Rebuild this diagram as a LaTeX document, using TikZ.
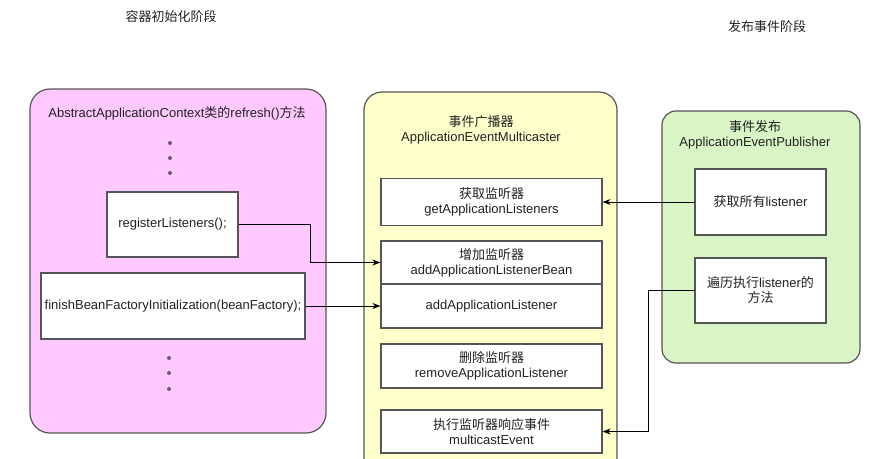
\documentclass[tikz,border=0pt]{standalone}
\usepackage{fontspec}
\setmainfont{Liberation Sans}
\newfontfamily\cjk{Noto Sans CJK SC}
\newcommand{\zh}[1]{{\cjk #1}}
\usetikzlibrary{arrows.meta}
\definecolor{flowInk}{HTML}{222222}
\definecolor{flowEdge}{HTML}{555555}
\definecolor{flowPink}{HTML}{FFC9FF}
\definecolor{flowYellow}{HTML}{FFFFCC}
\definecolor{flowGreen}{HTML}{D9F5C6}
\definecolor{flowDot}{HTML}{6A5A6A}
\tikzset{
  every picture/.style={font=\fontsize{13}{15}\selectfont, text=flowInk},
  flow group/.style={draw=flowEdge, line width=1.2pt, rounded corners=20pt, inner sep=0pt},
  flow box/.style={draw=flowEdge, line width=1.2pt, fill=white, align=center, inner sep=0pt},
  flow label/.style={align=center, inner sep=1pt},
  flow arrow/.style={-{Stealth[length=8pt,width=6pt]}, draw=black, line width=0.8pt},
  flow dot/.style={circle, fill=flowDot, inner sep=0pt, minimum size=4pt}
}

\begin{document}
\begin{tikzpicture}[x=1pt,y=-1pt]
  \useasboundingbox (0,0) rectangle (869,458);
  \clip (0,0) rectangle (869,458);
  % stage titles
  \node (stageinit) at (171,17) {\zh{容器初始化阶段}};
  \node (stagepub) at (767,27) {\zh{发布事件阶段}};
  % refresh() container
  \node[flow group, fill=flowPink, minimum width=296pt, minimum height=344pt] (ctx) at (178,261) {};
  \node[flow label] (ctxtitle) at (177,113) {AbstractApplicationContext\zh{类的}refresh()\zh{方法}};
  \foreach \y [count=\i] in {143,158,173} \node[flow dot] (dotup\i) at (170,\y) {};
  \foreach \y [count=\i] in {358,373,389} \node[flow dot] (dotlow\i) at (169,\y) {};
  \node[flow box, minimum width=131pt, minimum height=65pt] (reg) at (172.5,224.5) {registerListeners();};
  \node[flow box, minimum width=264pt, minimum height=66pt] (fin) at (173,306) {finishBeanFactoryInitialization(beanFactory);};
  % multicaster container
  \node[flow group, fill=flowYellow, rounded corners=18pt, minimum width=253pt, minimum height=390pt] (mcast) at (490.5,287) {};
  \node[flow label] (mcasttitle) at (481,130) {\zh{事件广播器}\\ApplicationEventMulticaster};
  \node[flow box, minimum width=221pt, minimum height=47pt] (get) at (491.5,202) {\zh{获取监听器}\\getApplicationListeners};
  \node[flow box, minimum width=221pt, minimum height=43pt] (add) at (491.5,262.5) {\zh{增加监听器}\\addApplicationListenerBean};
  \node[flow box, minimum width=221pt, minimum height=44pt] (addlst) at (491.5,306) {addApplicationListener};
  \node[flow box, minimum width=221pt, minimum height=44pt] (rem) at (491.5,366) {\zh{删除监听器}\\removeApplicationListener};
  \node[flow box, minimum width=221pt, minimum height=43pt] (mc) at (491.5,431.5) {\zh{执行监听器响应事件}\\multicastEvent};
  % publisher container
  \node[flow group, fill=flowGreen, rounded corners=14pt, minimum width=198pt, minimum height=252pt] (pub) at (761,237) {};
  \node[flow label] (pubtitle) at (755,135) {\zh{事件发布}\\ApplicationEventPublisher};
  \node[flow box, minimum width=131pt, minimum height=66pt] (all) at (760.5,202) {\zh{获取所有}listener};
  \node[flow box, minimum width=131pt, minimum height=65pt] (loop) at (760.5,290.5) {\zh{遍历执行}listener\zh{的}\\\zh{方法}};
  % connectors
  \draw[flow arrow] (reg.east) -- ++(72,0) |- (add.west);
  \draw[flow arrow] (fin.east) -- (addlst.west);
  \draw[flow arrow] (all.west) -- (get.east);
  \draw[flow arrow] (loop.west) -- ++(-46,0) |- (mc.east);
\end{tikzpicture}
\end{document}
